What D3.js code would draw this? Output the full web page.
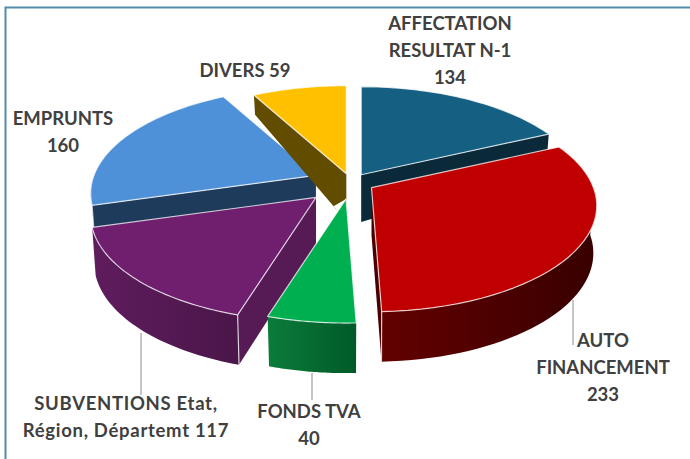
<!DOCTYPE html>
<html><head><meta charset="utf-8">
<script src="https://cdn.jsdelivr.net/npm/d3@7/dist/d3.min.js"></script>
<style>html,body{margin:0;padding:0;background:#fff}svg{display:block}</style>
</head><body><div id="c"></div>
<script>
const categories = ["AFFECTATION RESULTAT N-1","AUTO FINANCEMENT","FONDS TVA","SUBVENTIONS Etat, Région, Départemt","EMPRUNTS","DIVERS"];
const values = [134,233,40,117,160,59];
const topColors = ["#156082","#c00000","#00b050","#701f6f","#4f91d9","#ffc000"];
const wallColors = ["#0a2a3a","#4a0000","#006030","#561a55","#1f3b5c","#614c00"];
const wallLight = ["#0a2a3a","#630000","#0b7c3a","#5f1c5e","#1f3b5c","#614c00"];
const wallDark = ["#0a2a3a","#380000","#005a28","#4a1649","#1f3b5c","#614c00"];
const explode = [19,24,38,49,38,19];
const drawOrder = [0,4,5,3,2,1];
const labelLines = [
 ["AFFECTATION","RESULTAT N-1","134"],
 ["AUTO","FINANCEMENT","233"],
 ["FONDS TVA","40"],
 ["SUBVENTIONS Etat,","Région, Départemt 117"],
 ["EMPRUNTS","160"],
 ["DIVERS 59"]
];
const labelAnchors = [[450,30],[603,347],[309,418],[126,410],[63,125],[245,77]];
const labelSpacing = [0,0,0,0.7,0,0];
const leaders = [null,[[573,300],[573,345]],[[312,373],[312,400]],[[141,333],[141,395]],null,null];

const W=690,H=459;
const svg=d3.select("#c").append("svg").attr("width",W).attr("height",H);
const cx=351,cy=182,A=222,B=103,D=48,P=0.17,Q=0.015,FAR=0.62,NEAR=0.08;
function proj(theta,r,d,o){
  const X=r*Math.sin(theta),Y=r*Math.cos(theta),w=1+P*Y+Q*d;
  const k=1-FAR*Math.max(Y,0)-NEAR*Math.max(-Y,0);
  return [o[0]+A*X/w,o[1]+(-B*Y+D*d*k)/w];
}
const pie=d3.pie().sort(null).value(d=>d)(values);
const line=d3.line();
const origin=i=>{const m=(pie[i].startAngle+pie[i].endAngle)/2;return [cx+explode[i]*Math.sin(m),cy-explode[i]*0.45*Math.cos(m)];};
const defs=svg.append("defs");
const g=svg.append("g");
svg.append("path").attr("d","M5.5,459V7.5H690").attr("fill","none").attr("stroke","#3f7f9f").attr("stroke-width",2).attr("stroke-opacity",.9);

const FRONT0=Math.PI/2,FRONT1=Math.PI*1.5;
drawOrder.forEach(i=>{
  const s=pie[i],o=origin(i);
  const steps=a=>{const n=40;return d3.range(0,n+1).map(k=>a[0]+(a[1]-a[0])*k/n);};
  const apexT=proj(0,0,0,o),apexB=proj(0,0,1,o);
  const sg=g.append("g");
  const grad=defs.append("linearGradient").attr("id","w"+i);
  grad.append("stop").attr("offset",0).attr("stop-color",wallLight[i]);
  grad.append("stop").attr("offset",1).attr("stop-color",wallDark[i]);
  const edge=el=>el.attr("stroke","#fff").attr("stroke-opacity",.75).attr("stroke-width",1.2).attr("stroke-linejoin","round");
  const a0=Math.max(s.startAngle,FRONT0),a1=Math.min(s.endAngle,FRONT1);
  if(a1>a0){
    const t=steps([a0,a1]);
    sg.append("path").attr("d",line(t.map(a=>proj(a,1,0,o)).concat(t.map(a=>proj(a,1,1,o)).reverse()))+"Z").attr("fill",`url(#w${i})`);
  }
  [[s.startAngle,1],[s.endAngle,-1]].forEach(([a,sign])=>{
    const e0=proj(a,1,0,o),e1=proj(a,1,1,o);
    if(d3.polygonArea([apexT,e0,e1,apexB])*sign>0){
      sg.append("path").attr("d",line([apexT,e0,e1,apexB])+"Z").attr("fill",wallColors[i]);
      if(Math.cos(a)<0) edge(sg.append("path").attr("d",line([e0,e1])).attr("fill","none"));
      if(i===5){
        const ga=proj(0,0,0,origin(2)),f=0.86;
        const n=[e1[0]+(apexB[0]-e1[0])*f,e1[1]+(apexB[1]-e1[1])*f];
        sg.append("path").attr("d",line([n,apexB,ga])+"Z").attr("fill","#fff");
      }
    }
  });
  const t=steps([s.startAngle,s.endAngle]);
  edge(sg.append("path").attr("d",line([apexT].concat(t.map(a=>proj(a,1,0,o))))+"Z").attr("fill",topColors[i]));
});

leaders.forEach(l=>{ if(l) svg.append("path").attr("d",line(l)).attr("fill","none").attr("stroke","#a6a6a6").attr("stroke-width",1.3); });

labelLines.forEach((ls,i)=>{
  const t=svg.append("text").attr("text-anchor","middle").attr("font-family","Lato").attr("font-weight",700).attr("font-size",18.5).attr("letter-spacing",labelSpacing[i]).attr("fill","#404040");
  ls.forEach((txt,k)=>t.append("tspan").attr("x",labelAnchors[i][0]).attr("y",labelAnchors[i][1]+k*27).text(txt));
});
</script></body></html>
